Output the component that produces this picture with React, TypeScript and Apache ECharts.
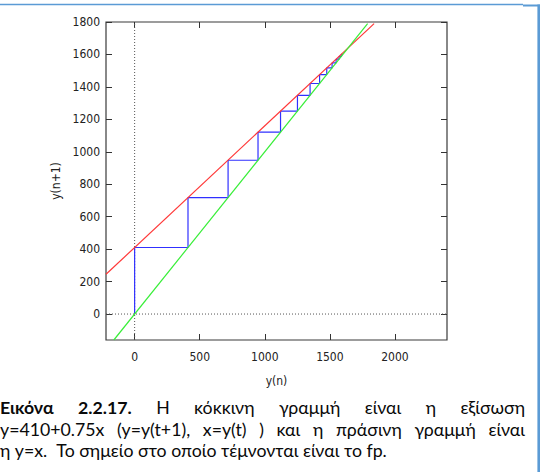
import React, { useEffect, useRef } from "react";
import * as echarts from "echarts";

// ---- data ----
const xTickValues = [0, 500, 1000, 1500, 2000];
const yTickValues = [0, 200, 400, 600, 800, 1000, 1200, 1400, 1600, 1800];
const xRange = [-220, 2400];
const yRange = [-160, 1800];
// red line y = 410 + 0.75x (end points)
const redLine = [
  [-220, 245],
  [1840, 1790],
];
// green line y = x
const greenLine = [
  [-160, -160],
  [1790, 1790],
];
// successive values y(n) of the cobweb
const iterates = [0, 410, 718, 948, 1121, 1251, 1348, 1421, 1476, 1517, 1548, 1571, 1588, 1601];
const zeroVertical = [
  [0, -160],
  [0, 1800],
];
const zeroHorizontal = [
  [-220, 0],
  [2400, 0],
];
const xName = "y(n)";
const yName = "y(n+1)";
const captionLine1 = [
  { t: "Εικόνα", b: true },
  { t: "2.2.17.", b: true },
  { t: "Η", b: false },
  { t: "κόκκινη", b: false },
  { t: "γραμμή", b: false },
  { t: "είναι", b: false },
  { t: "η", b: false },
  { t: "εξίσωση", b: false },
];
const captionLine2 = "y=410+0.75x (y=y(t+1), x=y(t) ) και η πράσινη γραμμή είναι";
const captionLine3 = "η y=x.  Το σημείο στο οποίο τέμνονται είναι το fp.";

const AXIS_FONT = "'Liberation Sans Narrow', 'DejaVu Sans Condensed', 'Liberation Sans', sans-serif";
const CAP_FONT = "Lato, 'Open Sans', 'Noto Sans', sans-serif";

function buildStairs(vals: number[]) {
  const pts: number[][] = [[vals[0], vals[0]]];
  for (let i = 0; i < vals.length - 1; i++) {
    pts.push([vals[i], vals[i + 1]]);
    pts.push([vals[i + 1], vals[i + 1]]);
  }
  return pts;
}

function captionGraphics() {
  const canvas = document.createElement("canvas");
  const ctx = canvas.getContext("2d")!;
  const fontStr = (size: number, bold: boolean) => `${bold ? "bold " : ""}${size}px ${CAP_FONT}`;
  ctx.font = fontStr(17, false);
  const w3 = ctx.measureText(captionLine3).width || 387;
  let size = (17 * 387) / w3;
  size = Math.max(13, Math.min(20, size));
  const measure = (t: string, b: boolean) => {
    ctx.font = fontStr(size, b);
    return ctx.measureText(t).width;
  };
  const els: any[] = [];
  const justify = (words: { t: string; b: boolean }[], y: number, width: number) => {
    const ws = words.map((w) => measure(w.t, w.b));
    const total = ws.reduce((a, b) => a + b, 0);
    const gap = (width - total) / (words.length - 1);
    let x = 0;
    words.forEach((w, i) => {
      els.push({
        type: "text",
        x,
        y,
        style: {
          text: w.t,
          font: fontStr(size, w.b),
          fill: "#0a0a0a",
          verticalAlign: "middle",
          align: "left",
        },
      });
      x += ws[i] + gap;
    });
  };
  justify(captionLine1, 407, 525);
  justify(
    captionLine2.split(" ").map((t) => ({ t, b: false })),
    429,
    525
  );
  els.push({
    type: "text",
    x: 0,
    y: 450,
    style: {
      text: captionLine3,
      font: fontStr(size, false),
      fill: "#0a0a0a",
      verticalAlign: "middle",
      align: "left",
    },
  });
  return els;
}

export default function App() {
  const ref = useRef<HTMLDivElement>(null);
  useEffect(() => {
    if (!ref.current) return;
    const chart = echarts.init(ref.current, undefined, { renderer: "svg" });
    const tickStyle = { color: "#333", width: 1 };
    const labelStyle = { fontSize: 12, color: "#222", fontFamily: AXIS_FONT };
    const fmt = (v: number) => String(v);
    const border = "#5B9BD5";
    const option: any = {
      animation: false,
      backgroundColor: "#fff",
      grid: {
        left: 106,
        right: 101,
        top: 22,
        bottom: 132,
        show: true,
        borderColor: "#3a3a3a",
        borderWidth: 1.2,
        backgroundColor: "transparent",
        outerBoundsMode: "none",
      },
      xAxis: [
        {
          type: "value",
          position: "bottom",
          min: xRange[0],
          max: xRange[1],
          axisLine: { show: false, onZero: false },
          splitLine: { show: false },
          axisTick: { inside: true, length: 6, customValues: xTickValues, lineStyle: tickStyle },
          axisLabel: { customValues: xTickValues, margin: 11, formatter: fmt, ...labelStyle },
          name: xName,
          nameLocation: "middle",
          nameGap: 35,
          nameTextStyle: { ...labelStyle },
        },
        {
          type: "value",
          position: "top",
          min: xRange[0],
          max: xRange[1],
          axisLine: { show: false, onZero: false },
          splitLine: { show: false },
          axisTick: { inside: true, length: 6, customValues: xTickValues, lineStyle: tickStyle },
          axisLabel: { show: false },
        },
      ],
      yAxis: [
        {
          type: "value",
          position: "left",
          min: yRange[0],
          max: yRange[1],
          axisLine: { show: false, onZero: false },
          splitLine: { show: false },
          axisTick: { inside: true, length: 6, customValues: yTickValues, lineStyle: tickStyle },
          axisLabel: { customValues: yTickValues, margin: 6, formatter: fmt, ...labelStyle },
          name: yName,
          nameLocation: "middle",
          nameGap: 35,
          nameRotate: 90,
          nameTextStyle: { ...labelStyle },
        },
        {
          type: "value",
          position: "right",
          min: yRange[0],
          max: yRange[1],
          axisLine: { show: false, onZero: false },
          splitLine: { show: false },
          axisTick: { inside: true, length: 6, customValues: yTickValues, lineStyle: tickStyle },
          axisLabel: { show: false },
        },
      ],
      series: [
        {
          type: "line",
          data: zeroVertical,
          symbol: "none",
          lineStyle: { color: "#555", width: 1, type: [1, 2] },
          silent: true,
        },
        {
          type: "line",
          data: zeroHorizontal,
          symbol: "none",
          lineStyle: { color: "#555", width: 1, type: [1, 2] },
          silent: true,
        },
        {
          type: "line",
          data: buildStairs(iterates),
          symbol: "none",
          lineStyle: { color: "#3030ff", width: 1.2 },
        },
        {
          type: "line",
          data: redLine,
          symbol: "none",
          lineStyle: { color: "#ff3838", width: 1.2 },
        },
        {
          type: "line",
          data: greenLine,
          symbol: "none",
          lineStyle: { color: "#38ee38", width: 1.2 },
        },
      ],
      graphic: [
        { type: "line", shape: { x1: 0, y1: 4.5, x2: 523, y2: 4.5 }, style: { stroke: border, lineWidth: 1.5 } },
        { type: "line", shape: { x1: 523, y1: 5.5, x2: 540, y2: 5.5 }, style: { stroke: border, lineWidth: 2 } },
        { type: "line", shape: { x1: 538.7, y1: 4.5, x2: 538.7, y2: 472 }, style: { stroke: border, lineWidth: 2.6 } },
        ...captionGraphics(),
      ],
    };
    chart.setOption(option);
    return () => chart.dispose();
  }, []);
  return (
    <div
      ref={ref}
      style={{ width: 548, height: 472, position: "absolute", left: 0, top: 0 }}
    />
  );
}
